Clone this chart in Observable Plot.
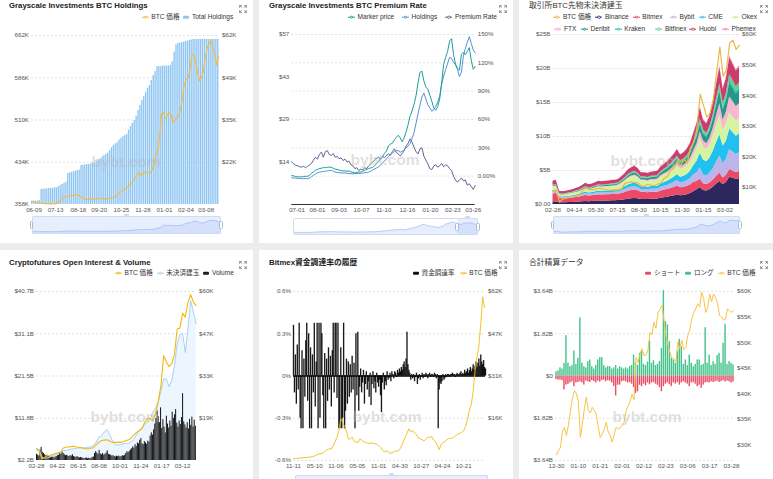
<!DOCTYPE html>
<html>
<head>
<meta charset="utf-8">
<script src="https://cdn.jsdelivr.net/npm/d3@7"></script>
<script src="https://cdn.jsdelivr.net/npm/@observablehq/plot@0.6"></script>
<style>
html,body{margin:0;padding:0;}
body{width:773px;height:479px;overflow:hidden;position:relative;background:#ececec;font-family:"Liberation Sans",Arial,"Noto Sans CJK JP",sans-serif;}
.panel{position:absolute;background:#fff;overflow:hidden;}
.panel svg.pl{position:absolute;left:0;top:0;}
.title{position:absolute;left:10px;top:9.2px;font-size:7.8px;font-weight:bold;color:#222;white-space:nowrap;line-height:1;}
.title.light{font-weight:normal;color:#333;}
.lg{position:absolute;display:flex;align-items:center;font-size:6.6px;color:#333;white-space:nowrap;line-height:1;transform:translateY(-50%);}
.ic-line{position:relative;display:inline-block;width:7px;height:1.1px;margin-right:2.6px;}
.ic-line::after{content:"";position:absolute;left:1.9px;top:-1.2px;width:1.6px;height:1.6px;border-radius:50%;border:0.9px solid currentColor;background:#fff;}
.ic-rect{display:inline-block;width:6px;height:3.4px;border-radius:1px;margin-right:2.6px;}
.wm{position:absolute;font-size:15.5px;font-weight:bold;color:rgba(185,185,185,0.45);transform:translate(-50%,-50%);white-space:nowrap;font-family:"Liberation Sans",Arial,sans-serif;}
.exp{position:absolute;}
.slider{position:absolute;border:1px solid #d2dbee;border-radius:2px;box-sizing:border-box;}
.sel{position:absolute;background:rgba(135,175,255,0.2);}
.hdl{position:absolute;width:3.4px;height:8px;background:#fff;border:0.8px solid #acb8d1;border-radius:1.5px;box-sizing:border-box;}
.tab{position:absolute;width:5px;height:2.2px;background:#d2dbee;border-radius:1px 1px 0 0;}
</style>
</head>
<body>
<script>
const FONT = '"Liberation Sans", Arial, "Noto Sans CJK JP", sans-serif';
const DAY = 864e5;
const utc = s => new Date(s + "T00:00:00Z");
const addDays = (d, n) => new Date(+d + n * DAY);
const fmtMD = d3.utcFormat("%m-%d");

// ================= DATA =================
// Panel 1: Grayscale Investments BTC Holdings (3-day steps)
const p1Start = "2020-06-05", p1Step = 3;
const p1Holdings = [364,364,364,364,365,
385,386,386,386,387,387,387,388,388,
390,392,394,396,398,
414,415,416,417,418,419,420,
428,429,429,430,430,431,432,432,
436,438,440,443,446,448,450,
455,460,464,467,469,
474,477,480,482,484,
492,498,504,509,
517,527,536,545,552,560,567,572,
581,590,597,
606,606,606,607,607,607,607,608,
615,632,645,648,648,
649,650,651,652,653,654,
655,655,655,655,655,655,655,655,655,655,655,655,655,655];
const p1Price = [9.0,8.9,8.8,8.6,8.5,8.4,8.3,8.2,8.3,8.2,
8.2,8.3,8.2,8.3,8.6,9.4,10.1,10.4,10.6,10.7,
10.9,10.8,11.0,11.2,10.9,10.6,10.4,9.9,9.5,9.6,
9.8,9.7,9.8,9.8,9.7,9.9,10.1,9.9,9.8,9.8,
10.0,10.1,10.0,10.3,10.6,11.3,12.0,12.1,12.6,13.1,
13.6,14.2,14.8,15.6,16.3,17.3,18.2,17.2,17.9,18.5,
18.2,18.0,18.1,19.0,21.0,23.5,25.5,29.5,37.0,37.5,
35.5,36.5,37.3,36.8,34.2,35.0,35.8,36.2,38.5,41.8,
46.5,48.0,48.4,51.5,56.0,55.8,53.5,50.0,47.5,48.5,
50.5,55.0,58.0,59.5,60.5,58.3,56.0,52.5,55.5];
const p1XTicks = ["2020-06-09","2020-07-13","2020-08-18","2020-09-20","2020-10-25","2020-11-28","2021-01-01","2021-02-04","2021-03-08"];
const p1LeftTicks = [358,434,510,586,662];
const p1LeftLabels = ["358K","434K","510K","586K","662K"];
const p1RightDomain = [8,62];
const p1RightTicks = [21.5,35,48.5,62];
const p1RightLabels = ["$22K","$35K","$49K","$62K"];

// Panel 2: Grayscale Premium (3-day steps)
const p2Start = "2020-06-23", p2Step = 3;
const p2Market = [9.8,9.6,9.4,9.3,9.3,9.3,9.4,9.5,9.5,9.8,
10.5,11.0,11.5,11.8,12.1,12.2,12.4,12.4,12.5,12.6,
12.5,12.2,11.9,11.8,11.6,11.4,11.3,11.3,11.2,11.3,
11.0,10.8,10.6,10.8,10.9,10.9,11.3,11.5,11.8,12.1,
12.3,12.5,13.1,13.7,14.5,15.5,16.1,17.2,18.0,19.8,
20.3,20.6,21.8,22.6,23.3,22.4,21.1,22.5,24.5,26.9,
29.8,31.5,33.8,36.6,41.0,44.5,44.8,41.5,39.5,38.8,
36.8,34.7,32.5,31.7,33.0,35.5,41.0,47.2,49.5,51.5,
55.0,55.8,50.5,47.3,45.8,45.2,50.5,51.2,50.4,51.5,
52.8,48.5,45.5,46.5];
const p2Holdings = [9.0,8.9,8.9,8.8,8.8,8.7,8.7,8.7,8.7,8.9,
9.4,9.8,10.3,10.7,10.9,11.0,11.1,11.2,11.3,11.4,
11.5,11.2,10.9,10.8,10.7,10.6,10.6,10.6,10.5,10.4,
10.4,10.3,10.4,10.4,10.4,10.5,10.6,10.7,10.8,10.9,
11.2,11.6,12.0,12.3,12.6,13.3,13.9,14.6,15.3,16.1,
16.9,17.3,17.8,18.2,18.1,17.6,17.9,18.5,19.1,19.7,
20.5,22.3,24.2,27.3,30.5,33.5,36.2,37.5,35.5,33.5,
32.5,31.4,32.0,33.0,34.5,36.5,40.4,43.2,45.4,47.5,
49.5,49.2,47.9,47.0,45.5,43.0,44.5,50.0,52.5,54.5,
56.5,54.2,52.0,51.0];
const p2Premium = [15,13,11.5,11,10,9.5,10.5,9,10.5,12,
13.5,17,20,18,23,25.5,20,26,27,23,
22,24,20,21,18.5,19.5,16.5,18,15,16,
12,11,8,9,6,7.5,6.5,9,8,11,
13,15,17,19,20,18,21,19.5,22,23.5,
22,26,29,25,23.5,21.5,24,27,32,35,
39.5,36,30.5,26,23.5,29,30,21,17,13,
8,7,11,12,9.5,11,13.5,10,12,11,
8,6,0,-4,-6.5,-4,-2,-5,-4,-9.5,
-8,-11,-14,-10];
const p2XTicks = ["2020-07-01","2020-08-01","2020-09-03","2020-10-07","2020-11-10","2020-12-16","2021-01-20","2021-02-23","2021-03-26"];
const p2LeftDomain = [0,57.2];
const p2LeftTicks = [14.3,28.6,42.9,57.2];
const p2LeftLabels = ["$14","$29","$43","$57"];
const p2RightDomain = [-30,150];
const p2RightTicks = [0,30,60,90,120,150];
const p2RightLabels = ["0.00%","30%","60%","90%","120%","150%"];

// Panel 3: exchange BTC futures open interest (weekly, $B)
const p3Start = "2020-02-28", p3Step = 7;
const p3Names = ["Binance","Bitmex","Bybit","CME","Okex","FTX","Deribit","Kraken","Bitfinex","Huobi","Phemex"];
const p3Colors = ["#2c285f","#ea4a66","#bcb4ea","#22c0ee","#d6f4a0","#f7b8ce","#2a9588","#1cc0a0","#5dd28c","#cc3c6e","#f28aad"];
const p3Binance = [0.35,0.38,0.25,0.25,0.27,0.29,0.31,0.34,0.36,0.40,0.45,0.42,0.44,0.47,0.50,0.49,0.51,0.52,0.54,0.55,0.57,0.63,0.70,0.78,0.84,0.88,0.83,0.74,0.75,0.74,0.78,0.79,0.81,0.92,1.00,1.06,1.16,1.26,1.40,1.27,1.34,1.45,1.60,1.88,2.17,2.45,2.05,1.98,2.20,2.55,3.00,3.40,2.90,3.25,4.00,3.85,3.70,3.80];
const p3Bitmex = [1.20,1.22,0.65,0.60,0.62,0.64,0.66,0.70,0.72,0.80,0.88,0.82,0.84,0.88,0.92,0.90,0.91,0.91,0.92,0.92,0.93,1.00,1.08,1.18,1.22,1.25,1.18,1.05,1.04,1.00,1.02,1.00,1.00,1.08,1.12,1.15,1.20,1.25,1.32,1.18,1.20,1.22,1.28,1.40,1.20,1.30,1.00,0.95,0.98,1.05,1.15,1.25,1.00,1.05,1.15,1.08,1.00,1.05];
const p3Bybit = [0.30,0.31,0.17,0.16,0.17,0.18,0.19,0.21,0.22,0.25,0.28,0.26,0.27,0.29,0.31,0.30,0.31,0.31,0.32,0.33,0.34,0.38,0.42,0.47,0.50,0.52,0.49,0.43,0.43,0.42,0.44,0.45,0.46,0.52,0.56,0.60,0.66,0.72,0.80,0.72,0.76,0.82,0.92,1.08,1.28,1.60,1.30,1.25,1.40,1.70,2.10,2.50,2.10,2.35,2.95,2.80,2.65,2.75];
const p3CME = [0.20,0.21,0.10,0.10,0.11,0.12,0.13,0.15,0.16,0.19,0.22,0.20,0.21,0.23,0.25,0.24,0.25,0.25,0.27,0.28,0.30,0.35,0.40,0.45,0.48,0.50,0.46,0.40,0.40,0.39,0.41,0.42,0.43,0.50,0.56,0.62,0.70,0.78,0.90,0.82,0.86,0.94,1.08,1.35,1.70,2.20,2.20,2.10,2.30,2.60,2.90,3.10,2.60,2.70,3.00,2.85,2.70,2.75];
const p3Okex = [0.50,0.52,0.28,0.27,0.28,0.30,0.32,0.36,0.38,0.44,0.50,0.46,0.48,0.52,0.56,0.54,0.56,0.56,0.58,0.58,0.60,0.68,0.78,0.88,0.96,1.00,0.94,0.82,0.82,0.80,0.84,0.85,0.86,0.98,1.05,1.08,1.15,1.22,1.30,1.15,1.18,1.26,1.36,1.55,1.80,2.15,1.90,1.80,1.95,2.20,2.50,2.80,2.30,2.55,2.40,2.30,2.20,2.25];
const p3FTX = [0.05,0.05,0.03,0.03,0.03,0.04,0.04,0.05,0.05,0.06,0.07,0.07,0.07,0.08,0.09,0.09,0.09,0.10,0.10,0.10,0.11,0.12,0.14,0.16,0.18,0.19,0.18,0.16,0.16,0.16,0.17,0.18,0.19,0.22,0.25,0.28,0.32,0.37,0.43,0.40,0.43,0.48,0.55,0.66,0.80,1.00,0.88,0.85,0.95,1.15,1.45,1.75,1.50,1.70,2.30,2.25,2.15,2.20];
const p3Deribit = [0.10,0.11,0.06,0.06,0.06,0.07,0.07,0.08,0.09,0.10,0.12,0.11,0.12,0.13,0.14,0.14,0.15,0.15,0.16,0.16,0.17,0.20,0.23,0.27,0.30,0.32,0.30,0.26,0.27,0.27,0.29,0.30,0.31,0.36,0.40,0.44,0.48,0.52,0.58,0.53,0.56,0.60,0.68,0.80,0.95,1.15,0.98,0.95,1.05,1.25,1.55,1.85,1.55,1.70,2.05,1.95,1.85,1.90];
const p3Kraken = [0.03,0.03,0.02,0.02,0.02,0.02,0.02,0.02,0.03,0.03,0.03,0.03,0.03,0.03,0.04,0.04,0.04,0.04,0.04,0.04,0.04,0.05,0.05,0.06,0.06,0.07,0.06,0.06,0.06,0.06,0.06,0.06,0.07,0.08,0.08,0.09,0.10,0.11,0.12,0.11,0.11,0.12,0.13,0.15,0.18,0.22,0.19,0.18,0.20,0.24,0.30,0.35,0.30,0.33,0.40,0.38,0.36,0.37];
const p3Bitfinex = [0.10,0.10,0.06,0.06,0.06,0.06,0.07,0.07,0.08,0.08,0.09,0.09,0.09,0.10,0.10,0.10,0.10,0.10,0.11,0.11,0.11,0.12,0.13,0.15,0.16,0.17,0.16,0.14,0.14,0.14,0.15,0.15,0.15,0.17,0.18,0.20,0.22,0.24,0.27,0.25,0.26,0.28,0.31,0.36,0.42,0.50,0.44,0.42,0.46,0.54,0.65,0.75,0.65,0.70,0.85,0.80,0.76,0.78];
const p3Huobi = [0.60,0.62,0.33,0.32,0.33,0.34,0.36,0.38,0.40,0.44,0.48,0.45,0.46,0.48,0.50,0.49,0.50,0.50,0.50,0.50,0.50,0.55,0.60,0.66,0.70,0.72,0.68,0.60,0.60,0.58,0.60,0.60,0.60,0.68,0.72,0.76,0.82,0.88,0.96,0.86,0.90,0.96,1.05,1.20,1.40,1.70,1.45,1.38,1.50,1.75,2.10,2.45,2.05,2.25,2.50,2.35,2.25,2.30];
const p3Phemex = [0,0,0,0,0,0,0,0,0,0.01,0.01,0.01,0.01,0.01,0.01,0.01,0.01,0.01,0.01,0.01,0.01,0.02,0.02,0.02,0.03,0.03,0.03,0.02,0.02,0.02,0.03,0.03,0.03,0.03,0.04,0.04,0.05,0.05,0.06,0.05,0.06,0.06,0.07,0.08,0.10,0.12,0.10,0.10,0.11,0.13,0.16,0.20,0.17,0.19,0.25,0.24,0.23,0.24];
const p3Price = [8.7,9.1,5.2,6.2,6.4,6.8,6.9,7.1,7.5,8.8,9.9,9.3,9.2,9.4,9.7,9.5,9.3,9.0,9.1,9.2,9.2,9.6,11.3,11.6,11.8,11.6,11.5,10.5,10.4,11.0,10.7,10.6,11.1,11.5,13.0,13.6,15.6,16.3,18.7,17.1,19.2,18.0,22.8,24.7,29.4,40.5,36.8,33.0,34.3,38.9,47.5,55.9,46.3,48.5,57.2,58.1,55.1,56.5];
const p3XTicks = ["2020-02-28","2020-04-14","2020-05-30","2020-07-15","2020-08-30","2020-10-15","2020-11-30","2021-01-15","2021-03-02"];
const p3LeftTicks = [0,5,10,15,20,25];
const p3LeftLabels = ["$0.00","$5B","$10B","$15B","$20B","$25B"];
const p3RightDomain = [4.4,60];
const p3RightTicks = [10,20,30,40,50,60];
const p3RightLabels = ["$10K","$20K","$30K","$40K","$50K","$60K"];

// Panel 4: Cryptofutures open interest & volume
const p4Start = "2020-02-28", p4Step = 7, p4VolStep = 3;
const p4OI = [4.9,4.7,3.0,2.7,2.8,3.0,3.2,3.5,3.8,4.1,
4.4,4.5,4.7,4.8,4.9,5.0,5.1,5.1,5.1,5.2,
5.3,5.7,6.3,7.5,7.8,8.6,9.3,8.2,6.8,5.9,
5.7,5.8,6.0,6.1,6.1,6.5,7.0,8.1,9.0,9.7,
10.4,10.9,11.6,13.2,14.1,15.6,18.0,20.8,20.8,19.0,
20.3,23.8,28.8,30.9,31.2,26.8,32.3,38.6,36.0,33.3];
const p4Price = [9.7,9.0,6.5,7.0,7.6,7.7,7.9,8.2,8.5,8.8,
10.0,10.3,10.3,10.5,10.5,10.3,10.1,10.0,9.8,9.7,
9.9,10.1,11.0,11.8,12.4,12.5,12.6,12.2,11.8,11.8,
11.8,11.8,12.0,12.3,12.6,13.2,14.2,15.0,15.6,16.1,
18.2,19.5,19.3,18.8,21.0,24.8,30.0,39.5,37.5,36.0,
37.0,40.0,48.0,48.3,53.0,51.8,56.5,59.0,56.6,55.5];
const p4Volume = [3.6,3.4,3.2,4.6,5.2,4.1,3.8,3.5,3.3,3.4,
3.1,3.0,2.9,3.2,3.0,2.8,3.0,3.1,3.3,3.4,
3.9,3.6,4.2,3.8,3.5,3.3,3.4,3.2,3.1,3.3,
3.2,3.5,3.1,3.0,2.9,3.1,2.9,2.8,2.9,2.8,
2.7,2.6,2.7,2.8,2.6,2.7,2.6,2.7,2.9,3.0,
3.8,4.2,3.9,3.6,4.5,3.7,3.5,3.8,3.4,3.6,
3.9,4.4,3.6,3.5,3.4,3.2,3.3,3.1,3.0,3.2,
3.1,3.2,3.0,3.1,3.3,3.2,3.4,3.8,4.2,4.0,
4.3,4.6,4.9,5.3,5.0,5.8,5.4,6.2,6.0,6.8,
7.2,6.0,5.8,6.5,6.2,5.9,6.6,6.4,7.8,8.5,
8.0,9.2,10.5,11.8,13.5,12.2,10.8,14.2,9.5,11.5,
9.8,8.5,12.3,10.5,9.6,11.2,10.0,13.2,11.8,12.6,
13.8,10.7,9.8,11.2,10.4,12.0,17.4,11.0,10.3,9.6,
10.8,9.4,11.6,10.2,12.1,9.8,11.4,10.0];
const p4XTicks = ["2020-02-28","2020-04-22","2020-06-15","2020-08-08","2020-10-01","2020-11-24","2021-01-17","2021-03-12"];
const p4LeftTicks = [2.2,11.825,21.45,31.075,40.7];
const p4LeftLabels = ["$2.2B","$11.8B","$21.5B","$31.1B","$40.7B"];
const p4RightDomain = [6,60];
const p4RightTicks = [19.5,33,46.5,60];
const p4RightLabels = ["$19K","$33K","$47K","$60K"];

// Panel 5: Bitmex funding rate history (%, 8-day steps) and BTC price (16-day steps)
const p5Start = "2016-11-11", p5Step = 8, p5PriceStep = 16;
const p5Funding = [0.36,-0.12,0.15,-0.20,0.22,-0.10,0.375,-0.30,-0.375,0.18,
-0.375,0.12,-0.15,0.25,0.375,-0.18,0.30,-0.375,0.20,-0.375,
0.15,-0.12,0.375,-0.22,0.10,0.375,-0.375,0.375,-0.30,0.375,
0.30,-0.14,-0.375,0.16,-0.375,0.12,-0.18,0.20,-0.10,0.14,
-0.22,0.18,0.375,-0.12,0.375,0.375,-0.16,0.375,-0.375,-0.375,
0.20,-0.375,-0.30,0.375,-0.375,-0.25,0.12,-0.20,0.10,-0.15,
0.08,-0.12,0.14,-0.10,0.09,-0.375,0.30,-0.14,0.31,-0.25,
-0.08,0.05,-0.12,-0.05,0.04,-0.20,-0.06,0.03,-0.10,-0.04,
-0.15,0.02,-0.21,-0.06,0.03,-0.09,-0.04,-0.12,0.02,-0.05,
-0.08,-0.03,-0.14,-0.26,-0.05,0.02,-0.10,-0.04,-0.07,0.03,
-0.03,-0.02,0.02,-0.04,0.03,
0.01,-0.02,0.03,0.02,-0.01,0.04,0.02,0.05,0.03,0.06,
0.04,0.08,0.10,0.06,0.12,0.31,0.08,0.04,0.02,-0.03,0.01,
-0.02,0.01,-0.04,-0.01,0.02,-0.06,-0.02,0.01,-0.03,-0.01,
0.02,-0.02,0.01,-0.01,0.02,0.01,-0.02,0.01,0.02,-0.01,
0.01,0.01,-0.01,0.02,0.01,-0.02,0.01,
-0.375,-0.10,-0.05,
-0.06,-0.04,0.01,-0.03,-0.02,0.01,-0.01,0.01,0.01,-0.01,
0.01,0.01,0.02,0.01,0.01,-0.01,0.01,0.02,0.01,0.01,
0.02,0.03,0.01,0.02,0.01,0.04,0.02,0.03,0.05,0.02,
0.04,0.06,0.03,0.05,0.08,0.04,0.07,0.10,0.06,0.09,
0.12,0.07,0.15,0.10,0.08,0.11,0.06,0.05];
const p5Price = [0.7,0.7,0.8,0.9,1.0,1.0,1.1,1.1,1.2,1.3,
1.4,1.6,2.0,2.3,2.6,2.5,3.0,3.6,4.0,4.3,
4.2,5.5,7.0,8.5,11.0,15.3,14.0,12.5,10.8,8.0,
7.8,8.6,7.2,6.8,6.6,7.8,7.6,6.9,6.6,6.4,
6.2,6.5,6.3,6.1,6.0,5.5,4.8,3.8,3.2,3.5,
3.4,2.6,2.8,3.2,3.5,3.4,3.9,5.2,6.8,8.5,
10.0,11.6,10.5,11.0,10.1,9.5,8.2,8.0,7.6,7.2,
7.8,8.6,8.3,8.9,7.5,7.0,5.5,4.0,5.8,6.5,
6.9,7.5,8.2,8.0,8.3,8.6,9.3,9.8,10.0,10.4,
11.0,12.5,15.0,18.5,20.5,25.5,33.0,38.0,42.0,50.0,
60.0,56.0];
const p5XTicks = ["2016-11-11","2017-05-10","2017-11-06","2018-05-05","2018-11-01","2019-04-30","2019-10-27","2020-04-24","2020-10-21"];
const p5LeftTicks = [-0.6,-0.3,0,0.3,0.6];
const p5LeftLabels = ["-0.6%","-0.3%","0%","0.3%","0.6%"];
const p5RightDomain = [0,62];
const p5RightTicks = [15.5,31,46.5,62];
const p5RightLabels = ["$16K","$31K","$47K","$62K"];

// Panel 6: total liquidations (daily, $B) and BTC price ($K)
const p6Start = "2020-12-30";
const p6Long = [0.18,0.22,0.35,0.30,0.55,1.74,0.55,0.40,0.45,1.08,
0.50,0.76,2.50,0.55,0.40,0.35,0.62,0.69,0.40,0.30,
0.45,0.69,0.79,0.79,0.45,0.35,0.40,0.40,0.30,0.35,
0.45,0.30,0.40,0.35,0.30,0.35,0.30,0.40,0.45,0.90,
0.55,0.45,0.98,1.05,0.50,0.45,0.60,1.50,0.55,0.66,
0.45,0.50,0.62,1.19,3.68,2.34,2.20,1.48,0.76,0.69,
0.55,1.05,1.58,1.26,0.50,0.69,0.45,0.90,0.55,0.40,
0.50,0.69,0.69,0.45,0.50,2.08,0.55,0.90,0.45,0.62,
0.50,0.88,0.98,0.55,1.41,2.23,0.50,0.62,0.55,0.48];
const p6Short = [0.15,0.18,0.17,0.20,0.60,0.39,0.36,0.30,0.25,0.46,
0.30,0.28,0.25,0.30,0.39,0.22,0.25,0.28,0.20,0.24,
0.30,0.22,0.26,0.20,0.18,0.25,0.20,0.22,0.30,0.45,
0.86,0.40,0.39,0.25,0.22,0.25,0.30,0.28,0.35,0.50,
0.75,0.68,0.40,0.46,0.35,0.42,0.30,0.38,0.30,0.28,
0.35,0.40,0.50,0.68,0.46,0.35,0.30,0.38,0.46,0.30,
0.35,0.28,0.39,0.30,0.25,0.30,0.35,0.46,0.30,0.28,
0.35,0.46,0.40,0.53,0.39,0.30,0.28,0.30,0.25,0.28,
0.25,0.22,0.28,0.24,0.20,0.26,0.22,0.25,0.30,0.26];
const p6Price = [28.0,28.8,29.5,32.5,33.4,31.8,33.8,36.5,39.0,40.6,
40.0,38.5,31.4,34.0,37.0,39.3,36.7,36.2,37.3,36.7,
36.0,33.5,31.4,32.1,33.0,34.4,32.5,31.8,30.5,32.0,
33.4,33.1,33.3,33.8,34.4,36.7,37.5,38.5,39.9,38.8,
47.1,46.1,47.8,48.8,47.5,47.5,48.5,52.0,51.5,54.0,
52.8,55.8,56.5,57.3,54.6,51.4,49.5,48.1,47.0,46.8,
46.2,50.1,48.8,50.5,48.6,49.0,51.4,52.5,54.6,55.8,
56.6,57.6,57.0,59.9,58.6,55.9,56.8,59.5,58.0,59.5,
58.8,57.6,55.3,55.0,54.4,54.6,56.6,56.2,55.9,56.3];
const p6XTicks = ["2020-12-30","2021-01-10","2021-01-21","2021-02-01","2021-02-12","2021-02-23","2021-03-06","2021-03-17","2021-03-28"];
const p6LeftTicks = [-3.64,-1.82,0,1.82,3.64];
const p6LeftLabels = ["$3.64B","$1.82B","$0","$1.82B","$3.64B"];
const p6RightDomain = [26.9,60];
const p6RightTicks = [30,35,40,45,50,55,60];
const p6RightLabels = ["$30K","$35K","$40K","$45K","$50K","$55K","$60K"];

// ================= HELPERS =================
const baseStyle = {background:"transparent", color:"#555", fontFamily:FONT, fontSize:"6.2px", overflow:"visible"};
function makePanel(P){ const el=document.createElement("div"); el.className="panel"; Object.assign(el.style,{left:P.x+"px",top:P.y+"px",width:P.w+"px",height:P.h+"px"}); document.body.appendChild(el); return el; }
function frame(P, A, bottom=13){ return {width:P.w, height:(A.y2-P.y)+bottom, marginLeft:A.x1-P.x, marginRight:P.x+P.w-A.x2, marginTop:A.y1-P.y, marginBottom:bottom}; }
function xScale(domain, ticks){ return ticks ? {type:"utc", domain, ticks:ticks.map(utc), tickFormat:fmtMD, tickSize:0, tickPadding:3.5, label:null} : {type:"utc", domain, axis:null}; }
function yScale(domain, ticks, labels, side){ const m=new Map(ticks.map((t,i)=>[t,labels[i]])); return {domain, ticks, tickFormat:d=>m.has(d)?m.get(d):"", tickSize:0, tickPadding:2.5, label:null, axis:side}; }
function addPlot(el, opts){ const svg=Plot.plot(Object.assign({style:baseStyle}, opts)); svg.classList.add("pl"); el.appendChild(svg); return svg; }
function addTitle(el, text, bold=true){ const d=document.createElement("div"); d.className="title"+(bold?"":" light"); d.textContent=text; el.appendChild(d); }
function addLegend(el, items, y){ for(const it of items){ const d=document.createElement("div"); d.className="lg"; d.style.left=it.x+"px"; d.style.top=y+"px"; const ic=document.createElement("span"); ic.className=it.kind==="line"?"ic-line":"ic-rect"; ic.style.background=it.color; ic.style.color=it.color; d.appendChild(ic); const t=document.createElement("span"); t.textContent=it.label; d.appendChild(t); el.appendChild(d);} }
function addWM(el, x, y){ const d=document.createElement("div"); d.className="wm"; d.textContent="bybt.com"; d.style.left=x+"px"; d.style.top=y+"px"; el.appendChild(d); }
function addExpand(el, P, y){ const ns="http://www.w3.org/2000/svg"; const s=document.createElementNS(ns,"svg"); s.setAttribute("width","8"); s.setAttribute("height","8"); s.setAttribute("class","exp"); s.style.left=(P.w-14.5)+"px"; s.style.top=y+"px"; const p=document.createElementNS(ns,"path"); p.setAttribute("d","M0.6 2.8V0.6H2.8M0.6 0.6L2.6 2.6M5.2 0.6H7.4V2.8M7.4 0.6L5.4 2.6M7.4 5.2V7.4H5.2M7.4 7.4L5.4 5.4M2.8 7.4H0.6V5.2M0.6 7.4L2.6 5.4"); p.setAttribute("fill","none"); p.setAttribute("stroke","#777"); p.setAttribute("stroke-width","0.8"); s.appendChild(p); el.appendChild(s); }
function addSlider(el, box, selFrom, values){
  const w=box.x2-box.x1, h=box.y2-box.y1;
  if(values){
    const svg=Plot.plot({width:w, height:h, marginLeft:1, marginRight:1, marginTop:3, marginBottom:1,
      x:{axis:null}, y:{axis:null, domain:[0, d3.max(values)*1.05]}, style:{background:"transparent", overflow:"visible"},
      marks:[Plot.areaY(values,{x:(d,i)=>i, y:d=>d, fill:"#8fb0f7", fillOpacity:0.22}), Plot.lineY(values,{x:(d,i)=>i, y:d=>d, stroke:"#9db8ef", strokeWidth:0.6})]});
    svg.classList.add("pl"); svg.style.left=box.x1+"px"; svg.style.top=box.y1+"px"; el.appendChild(svg);
  }
  const s=document.createElement("div"); s.className="sel"; Object.assign(s.style,{left:selFrom+"px",top:box.y1+"px",width:(box.x2-selFrom)+"px",height:h+"px"}); el.appendChild(s);
  const d=document.createElement("div"); d.className="slider"; Object.assign(d.style,{left:box.x1+"px",top:box.y1+"px",width:w+"px",height:h+"px"}); el.appendChild(d);
  for(const hx of [selFrom, box.x2]){ const hd=document.createElement("div"); hd.className="hdl"; Object.assign(hd.style,{left:(hx-1.7)+"px", top:(box.y1+h/2-4)+"px"}); el.appendChild(hd); }
  const tb=document.createElement("div"); tb.className="tab"; Object.assign(tb.style,{left:((selFrom+box.x2)/2-2.5)+"px", top:(box.y1-2)+"px"}); el.appendChild(tb);
}
const dates = (start, step, n) => Array.from({length:n}, (_, i) => addDays(utc(start), step*i));

// ================= PANEL 1 =================
{
  const P={x:-1,y:-7,w:254,h:250}, A={x1:31,x2:219,y1:35,y2:204};
  const el=makePanel(P);
  addTitle(el,"Grayscale Investments BTC Holdings");
  addExpand(el,P,11.5);
  addLegend(el,[{kind:"line",color:"#f5b940",label:"BTC 価格",x:142.7},{kind:"rect",color:"#8ec5f3",label:"Total Holdings",x:184.3}],24.3);
  const ds=dates(p1Start,p1Step,p1Holdings.length);
  const data=ds.map((d,i)=>({date:d, end:addDays(d,p1Step), hold:p1Holdings[i], price:p1Price[i]}));
  const dom=[ds[0], addDays(ds[ds.length-1],p1Step)];
  addPlot(el,{...frame(P,A), x:xScale(dom,p1XTicks), y:yScale([p1LeftTicks[0],p1LeftTicks[p1LeftTicks.length-1]],p1LeftTicks,p1LeftLabels,"left"),
    marks:[Plot.ruleY(p1LeftTicks.slice(1),{stroke:"#e2e2e2",strokeDasharray:"2,2"}),
      Plot.rectY(data,{x1:"date",x2:"end",y1:p1LeftTicks[0],y2:"hold",fill:"#8ec5f3",insetRight:0.55})]});
  addWM(el,127,169);
  addPlot(el,{...frame(P,A), x:xScale(dom), y:yScale(p1RightDomain,p1RightTicks,p1RightLabels,"right"),
    marks:[Plot.line(data,{x:d=>addDays(d.date,1.5),y:"price",stroke:"#f5b940",strokeWidth:1.1})]});
  addSlider(el,{x1:32.7,x2:222,y1:223,y2:241},32.7,p1Price);
}

// ================= PANEL 2 =================
{
  const P={x:259,y:-7,w:254,h:250}, A={x1:291.3,x2:474.7,y1:34,y2:204};
  const el=makePanel(P);
  addTitle(el,"Grayscale Investments BTC Premium Rate");
  addExpand(el,P,11.5);
  addLegend(el,[{kind:"line",color:"#1b9f9c",label:"Marker price",x:89},{kind:"line",color:"#5490da",label:"Holdings",x:143},{kind:"line",color:"#5d6591",label:"Premium Rate",x:186.3}],24.3);
  const ds=dates(p2Start,p2Step,p2Market.length);
  const data=ds.map((d,i)=>({date:d, mkt:p2Market[i], hold:p2Holdings[i], prem:p2Premium[i]}));
  const dom=[ds[0], ds[ds.length-1]];
  addPlot(el,{...frame(P,A), x:xScale(dom), y:yScale(p2RightDomain,p2RightTicks,p2RightLabels,"right"),
    marks:[Plot.ruleY(p2RightTicks,{stroke:"#e2e2e2",strokeDasharray:"2,2"}),
      Plot.line(data,{x:"date",y:"prem",stroke:"#5d6591",strokeWidth:1})]});
  addPlot(el,{...frame(P,A), x:xScale(dom,p2XTicks), y:yScale(p2LeftDomain,p2LeftTicks,p2LeftLabels,"left"),
    marks:[Plot.ruleY([p2LeftDomain[0]],{stroke:"#333",strokeWidth:1}),
      Plot.line(data,{x:"date",y:"hold",stroke:"#5490da",strokeWidth:1}),
      Plot.line(data,{x:"date",y:"mkt",stroke:"#1b9f9c",strokeWidth:1})]});
  addWM(el,126,167);
  addSlider(el,{x1:34,x2:219,y1:225,y2:242},198,p2Market);
}

// ================= PANEL 3 =================
{
  const P={x:519,y:-7,w:255,h:250}, A={x1:552.5,x2:739,y1:34,y2:204};
  const el=makePanel(P);
  addTitle(el,"取引所BTC先物未決済建玉",false);
  addExpand(el,P,11.5);
  const row1=[["line","#e9b847","BTC 価格",34.3],["line","#3b3584","Binance",76.3],["line","#ea4a66","Bitmex",113.7],["line","#bcb4ea","Bybit",151],["line","#22c0ee","CME",179.7],["line","#c9ee8c","Okex",213]];
  const row2=[["line","#f4a9c4","FTX",35.3],["line","#2a9588","Deribit",62],["line","#1cc0a0","Kraken",95.7],["line","#5dd28c","Bitfinex",136.3],["line","#cc3c6e","Huobi",170.3],["line","#f28aad","Phemex",203]];
  addLegend(el,row1.map(([kind,color,label,x])=>({kind,color,label,x})),24.3);
  addLegend(el,row2.map(([kind,color,label,x])=>({kind,color,label,x})),36.3);
  const series=[p3Binance,p3Bitmex,p3Bybit,p3CME,p3Okex,p3FTX,p3Deribit,p3Kraken,p3Bitfinex,p3Huobi,p3Phemex];
  const ds=dates(p3Start,p3Step,p3Price.length);
  const long=p3Names.flatMap((name,s)=>series[s].map((v,k)=>({date:ds[k], ex:name, v})));
  const dom=[ds[0], ds[ds.length-1]];
  addPlot(el,{...frame(P,A), x:xScale(dom,p3XTicks), y:yScale([p3LeftTicks[0],p3LeftTicks[p3LeftTicks.length-1]],p3LeftTicks,p3LeftLabels,"left"),
    color:{domain:p3Names, range:p3Colors},
    marks:[Plot.ruleY(p3LeftTicks.slice(1),{stroke:"#e2e2e2",strokeDasharray:"2,2"}),
      Plot.areaY(long,{x:"date",y:"v",z:"ex",fill:"ex",order:p3Names})]});
  addWM(el,126,168);
  addPlot(el,{...frame(P,A), x:xScale(dom), y:yScale(p3RightDomain,p3RightTicks,p3RightLabels,"right"),
    marks:[Plot.line(p3Price,{x:(d,i)=>ds[i],y:d=>d,stroke:"#e9b847",strokeWidth:1.2})]});
  addSlider(el,{x1:33.7,x2:221,y1:223,y2:241},33.7,p3Price);
}

// ================= PANEL 4 =================
{
  const P={x:-1,y:250,w:254,h:235}, A={x1:36,x2:196,y1:291,y2:460};
  const el=makePanel(P);
  addTitle(el,"Cryptofutures Open Interest & Volume");
  addExpand(el,P,10.5);
  addLegend(el,[{kind:"line",color:"#f2b90c",label:"BTC 価格",x:116},{kind:"line",color:"#a9d2f6",label:"未決済建玉",x:157.7},{kind:"rect",color:"#1f1f1f",label:"Volume",x:204.3}],23.3);
  const ds=dates(p4Start,p4Step,p4OI.length);
  const vd=dates(p4Start,p4VolStep,p4Volume.length);
  const data=ds.map((d,i)=>({date:d, oi:p4OI[i], price:p4Price[i]}));
  const vol=vd.map((d,i)=>({date:d, end:addDays(d,p4VolStep), v:p4Volume[i]}));
  const dom=[vd[0], addDays(vd[vd.length-1],p4VolStep)];
  const yMin=p4LeftTicks[0], yMax=p4LeftTicks[p4LeftTicks.length-1];
  addPlot(el,{...frame(P,A), x:xScale(dom,p4XTicks), y:yScale([yMin,yMax],p4LeftTicks,p4LeftLabels,"left"),
    marks:[Plot.ruleY(p4LeftTicks.slice(1),{stroke:"#e2e2e2",strokeDasharray:"2,2"}),
      Plot.areaY(data,{x:"date",y1:yMin,y2:"oi",fill:"#edf6fe"}),
      Plot.rectY(vol,{x1:"date",x2:"end",y1:yMin,y2:"v",fill:"#141414",insetRight:0.15}),
      Plot.line(data,{x:"date",y:"oi",stroke:"#a9d2f6",strokeWidth:1})]});
  addWM(el,126,167);
  addPlot(el,{...frame(P,A), x:xScale(dom), y:yScale(p4RightDomain,p4RightTicks,p4RightLabels,"right"),
    marks:[Plot.line(data,{x:"date",y:"price",stroke:"#f2b90c",strokeWidth:1.1})]});
}

// ================= PANEL 5 =================
{
  const P={x:259,y:250,w:254,h:235}, A={x1:293,x2:485,y1:291,y2:460};
  const el=makePanel(P);
  addTitle(el,"Bitmex資金調達率の履歴");
  addExpand(el,P,10.5);
  addLegend(el,[{kind:"rect",color:"#111",label:"資金調達率",x:154},{kind:"line",color:"#f2bb16",label:"BTC 価格",x:200.7}],23.3);
  const fd=dates(p5Start,p5Step,p5Funding.length);
  const pd=dates(p5Start,p5PriceStep,p5Price.length);
  const fund=fd.map((d,i)=>({date:d, v:p5Funding[i]}));
  const price=pd.map((d,i)=>({date:d, p:p5Price[i]}));
  const dom=[fd[0], fd[fd.length-1]];
  addPlot(el,{...frame(P,A), x:xScale(dom,p5XTicks), y:yScale([p5LeftTicks[0],p5LeftTicks[p5LeftTicks.length-1]],p5LeftTicks,p5LeftLabels,"left"),
    marks:[Plot.ruleY(p5LeftTicks.filter(t=>t!==0),{stroke:"#e2e2e2",strokeDasharray:"2,2"}),
      Plot.ruleX(fund,{x:"date",y1:0,y2:"v",stroke:"#050505",strokeWidth:1.35,strokeOpacity:0.92}),
      Plot.ruleY([0],{stroke:"#000",strokeWidth:1.6})]});
  addWM(el,128,167);
  addPlot(el,{...frame(P,A), x:xScale(dom), y:yScale(p5RightDomain,p5RightTicks,p5RightLabels,"right"),
    marks:[Plot.line(price,{x:"date",y:"p",stroke:"#f2bb16",strokeWidth:0.9})]});
  addSlider(el,{x1:35.7,x2:229,y1:225,y2:240},35.7,null);
}

// ================= PANEL 6 =================
{
  const P={x:519,y:250,w:255,h:235}, A={x1:555,x2:734,y1:291,y2:460};
  const el=makePanel(P);
  addTitle(el,"合計精算データ",false);
  addExpand(el,P,10.5);
  addLegend(el,[{kind:"rect",color:"#ea4d68",label:"ショート",x:126.3},{kind:"rect",color:"#46c48c",label:"ロング",x:166.3},{kind:"line",color:"#f6c545",label:"BTC 価格",x:198.7}],23.3);
  const ds=dates(p6Start,1,p6Long.length);
  const data=ds.map((d,i)=>({date:d, a:addDays(d,-0.36), b:addDays(d,0.36), lg:p6Long[i], sh:-p6Short[i], price:p6Price[i]}));
  const dom=[addDays(ds[0],-0.5), addDays(ds[ds.length-1],0.5)];
  addPlot(el,{...frame(P,A), x:xScale(dom,p6XTicks), y:yScale([p6LeftTicks[0],p6LeftTicks[p6LeftTicks.length-1]],p6LeftTicks,p6LeftLabels,"left"),
    marks:[Plot.ruleY(p6LeftTicks.filter(t=>t!==0),{stroke:"#e2e2e2",strokeDasharray:"2,2"}),
      Plot.rectY(data,{x1:"a",x2:"b",y1:0,y2:"lg",fill:"#46c48c"}),
      Plot.rectY(data,{x1:"a",x2:"b",y1:0,y2:"sh",fill:"#ea4d68"})]});
  addWM(el,128,167);
  addPlot(el,{...frame(P,A), x:xScale(dom), y:yScale(p6RightDomain,p6RightTicks,p6RightLabels,"right"),
    marks:[Plot.line(data,{x:"date",y:"price",stroke:"#f6c545",strokeWidth:1})]});
}
</script>
</body>
</html>
